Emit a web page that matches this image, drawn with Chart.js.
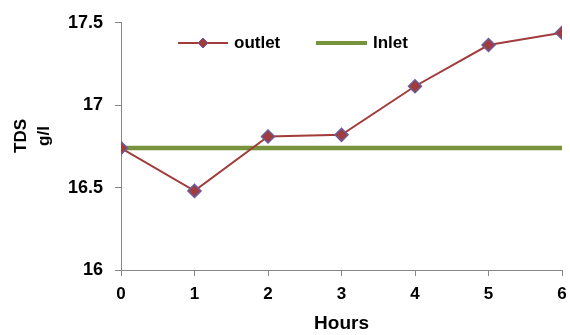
<!DOCTYPE html>
<html>
<head>
<meta charset="utf-8">
<script src="https://cdn.jsdelivr.net/npm/chart.js@4"></script>
<style>
html, body { margin: 0; padding: 0; background: #fff; }
#wrap { width: 570px; height: 335px; }
</style>
</head>
<body>
<div id="wrap"><canvas id="tdsChart" width="570" height="335"></canvas></div>
<script>
const hours = [0, 1, 2, 3, 4, 5, 6];
const outlet = [16.74, 16.48, 16.81, 16.82, 17.115, 17.365, 17.44];
const inlet = [16.74, 16.74, 16.74, 16.74, 16.74, 16.74, 16.74];
const yTicks = [16, 16.5, 17, 17.5];

const outletColor = '#A13C3B';
const markerBorder = '#6B5B9E';
const inletColor = '#77933C';
const FONT = '"Liberation Sans", Arial, sans-serif';

// legend + y title drawn by hand so they sit where the original has them
const extras = {
    id: 'extras',
    afterDraw(chart) {
        const ctx = chart.ctx;
        ctx.save();
        ctx.font = 'bold 17px ' + FONT;
        ctx.textBaseline = 'middle';
        const y = 43;
        // outlet
        ctx.strokeStyle = outletColor;
        ctx.lineWidth = 2;
        ctx.beginPath();
        ctx.moveTo(178, y);
        ctx.lineTo(228, y);
        ctx.stroke();
        ctx.fillStyle = outletColor;
        ctx.strokeStyle = markerBorder;
        ctx.lineWidth = 1;
        ctx.beginPath();
        ctx.moveTo(203, y - 5);
        ctx.lineTo(208, y);
        ctx.lineTo(203, y + 5);
        ctx.lineTo(198, y);
        ctx.closePath();
        ctx.fill();
        ctx.stroke();
        ctx.fillStyle = '#000';
        ctx.fillText('outlet', 234, y);
        // inlet
        ctx.strokeStyle = inletColor;
        ctx.lineWidth = 4;
        ctx.beginPath();
        ctx.moveTo(316, y);
        ctx.lineTo(367, y);
        ctx.stroke();
        ctx.fillText('Inlet', 373, y);

        // y axis title, two lines
        ctx.translate(0, 136);
        ctx.rotate(-Math.PI / 2);
        ctx.textAlign = 'center';
        ctx.fillText('TDS', 0, 21);
        ctx.fillText('g/l', 0, 44);
        ctx.restore();
    }
};

const ctx = document.getElementById('tdsChart').getContext('2d');
new Chart(ctx, {
    type: 'line',
    data: {
        labels: hours,
        datasets: [
            {
                label: 'outlet',
                data: hours.map((h, i) => ({ x: h, y: outlet[i] })),
                borderColor: outletColor,
                borderWidth: 2,
                backgroundColor: outletColor,
                pointStyle: 'rectRot',
                pointRadius: 6.5,
                pointBorderColor: markerBorder,
                pointBorderWidth: 1.5,
                pointBackgroundColor: outletColor,
                tension: 0,
                order: 0
            },
            {
                label: 'Inlet',
                data: hours.map((h, i) => ({ x: h, y: inlet[i] })),
                borderColor: inletColor,
                borderWidth: 4.5,
                pointRadius: 0,
                tension: 0,
                order: 1
            }
        ]
    },
    options: {
        responsive: false,
        animation: false,
        layout: { padding: { top: 22, right: 5, left: 0, bottom: 0 } },
        plugins: {
            legend: { display: false },
            tooltip: { enabled: false }
        },
        scales: {
            x: {
                type: 'linear',
                min: 0,
                max: 6,
                afterBuildTicks: s => { s.ticks = hours.map(v => ({ value: v })); },
                grid: {
                    display: true,
                    drawOnChartArea: false,
                    drawTicks: true,
                    tickLength: 6,
                    color: '#868686'
                },
                border: { color: '#868686', width: 1 },
                ticks: {
                    color: '#000',
                    font: { family: FONT, size: 17, weight: 'bold' },
                    padding: 8,
                    maxRotation: 0
                },
                title: {
                    display: true,
                    text: 'Hours',
                    color: '#000',
                    font: { family: FONT, size: 19, weight: 'bold' },
                    padding: { top: 5, bottom: 0 }
                },
                afterFit: s => { s.height = 65; s.paddingRight = 0; s.paddingLeft = 0; }
            },
            y: {
                min: 16,
                max: 17.5,
                afterBuildTicks: s => { s.ticks = yTicks.map(v => ({ value: v })); },
                grid: {
                    display: true,
                    drawOnChartArea: false,
                    drawTicks: true,
                    tickLength: 6,
                    color: '#868686'
                },
                border: { color: '#868686', width: 1 },
                ticks: {
                    color: '#000',
                    font: { family: FONT, size: 18, weight: 'bold' },
                    padding: 12,
                    callback: v => String(v)
                },
                title: { display: false },
                afterFit: s => { s.width = 121; }
            }
        }
    },
    plugins: [extras]
});
</script>
</body>
</html>
